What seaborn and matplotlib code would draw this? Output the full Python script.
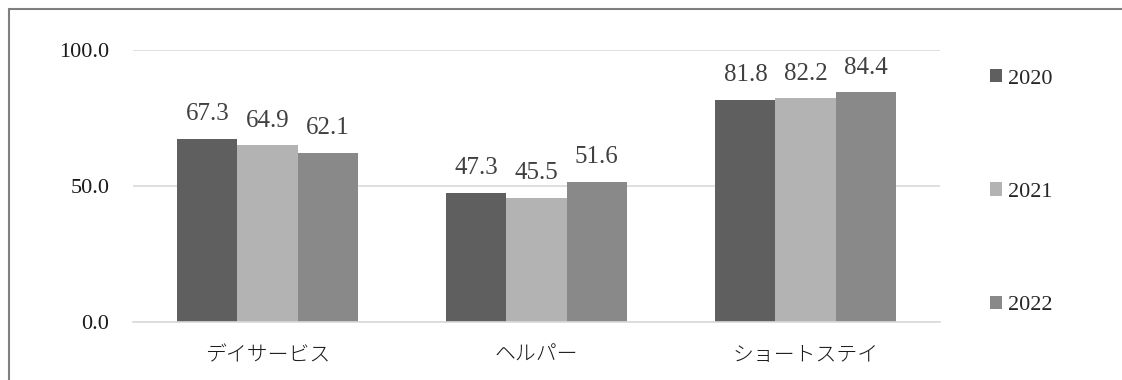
import matplotlib
matplotlib.use("Agg")
import matplotlib.pyplot as plt
import seaborn as sns
import pandas as pd
from matplotlib.patches import Patch
from matplotlib.lines import Line2D

categories = ["デイサービス", "ヘルパー", "ショートステイ"]
years = ["2020", "2021", "2022"]
v2020 = [67.3, 47.3, 81.8]
v2021 = [64.9, 45.5, 82.2]
v2022 = [62.1, 51.6, 84.4]
yticks = [0, 50, 100]

colors = ["#5f5f5f", "#b3b3b3", "#898989"]

rows = []
for yr, vals in zip(years, [v2020, v2021, v2022]):
    for c, v in zip(categories, vals):
        rows.append({"cat": c, "year": yr, "val": v})
df = pd.DataFrame(rows)

sns.set_theme(style="white")
plt.rcParams["font.family"] = ["Liberation Serif", "Noto Sans CJK JP", "DejaVu Sans"]

fig = plt.figure(figsize=(11.22, 3.8), dpi=100)
ax = fig.add_axes([133/1122, 1 - 322/380, (940-133)/1122, (322-50)/380])

sns.barplot(data=df, x="cat", y="val", hue="year", palette=colors,
            width=0.67, gap=0, ax=ax, legend=False, saturation=1,
            linewidth=0, edgecolor="none")
ax.set_ylim(0, 100)

for cont in ax.containers:
    ax.bar_label(cont, fmt="%.1f", padding=10, fontsize=18, color="#404040")

ax.set_xlim(-0.5, 2.5)
ax.set_yticks(yticks)
ax.set_yticklabels([f"{t:.1f}" for t in yticks], fontsize=16, color="#1a1a1a")
ax.tick_params(axis="y", length=0, pad=17)
ax.tick_params(axis="x", length=0, pad=16)
for lbl in ax.get_xticklabels():
    lbl.set_fontfamily(["Noto Sans CJK JP"])
    lbl.set_fontweight("light")
    lbl.set_fontsize(15)
    lbl.set_color("#1a1a1a")
ax.set_xlabel("")
ax.set_ylabel("")
ax.yaxis.grid(True, color="#d9d9d9", linewidth=1.2)
ax.set_axisbelow(True)
for s in ["top", "right", "left"]:
    ax.spines[s].set_visible(False)
ax.spines["bottom"].set_color("#d9d9d9")
ax.spines["bottom"].set_linewidth(1.2)

handles = [Patch(facecolor=c, edgecolor="none", label=y) for c, y in zip(colors, years)]
fig.legend(handles=handles, loc="upper left", bbox_to_anchor=(990/1122, 1 - 69/380),
           frameon=False, fontsize=16, handlelength=0.55, handleheight=0.55,
           handletextpad=0.25, labelspacing=4.22, borderpad=0, borderaxespad=0)

fig.add_artist(Line2D([9/1122, 9/1122], [0, 1 - 8.5/380], transform=fig.transFigure,
                      color="#7f7f7f", linewidth=1.5))
fig.add_artist(Line2D([9/1122, 1], [1 - 8.5/380, 1 - 8.5/380], transform=fig.transFigure,
                      color="#7f7f7f", linewidth=1.5))

fig.savefig("out.png", dpi=100)
